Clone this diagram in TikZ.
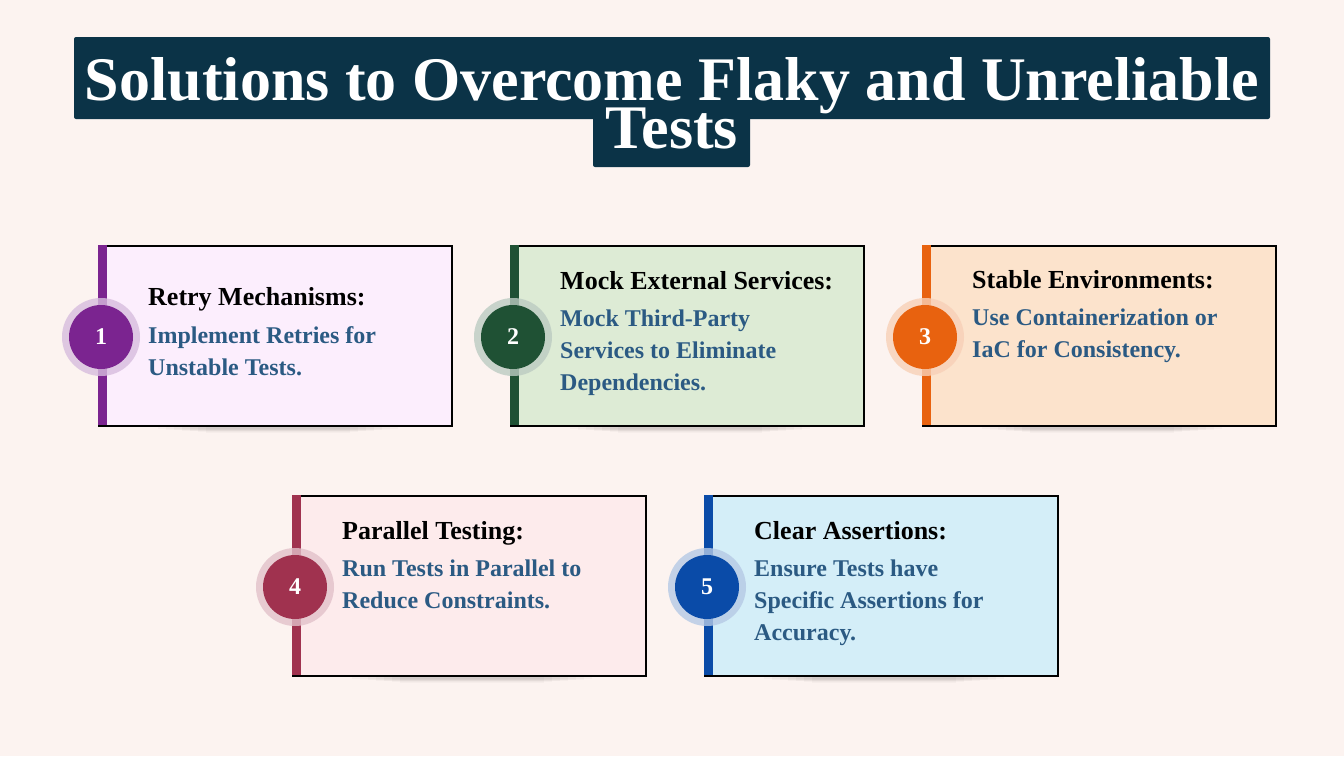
\documentclass[tikz,border=0pt]{standalone}
\usepackage{fontspec}
\setmainfont{Liberation Serif}
\definecolor{bg}{HTML}{FCF3F0}
\definecolor{ttl}{HTML}{0B3347}
\definecolor{desc}{HTML}{2B5A83}
\definecolor{cA}{HTML}{7B2490}\definecolor{fA}{HTML}{FCEEFD}
\definecolor{cB}{HTML}{1F5134}\definecolor{fB}{HTML}{DDEBD5}
\definecolor{cC}{HTML}{E8620F}\definecolor{fC}{HTML}{FCE3CC}
\definecolor{cD}{HTML}{A0324F}\definecolor{fD}{HTML}{FDEBEC}
\definecolor{cE}{HTML}{0A4BA8}\definecolor{fE}{HTML}{D4EEF8}
\tikzset{
 x=1pt,y=-1pt,
 hd/.style={anchor=base west,font=\fontsize{26}{30}\selectfont\bfseries,text=black,inner sep=0},
 ds/.style={anchor=north west,font=\fontsize{24}{32}\selectfont\bfseries,text=desc,inner sep=0,align=left},
 num/.style={font=\fontsize{24}{28}\selectfont\bfseries,text=white},
 shd/.style={fill=black,opacity=0.025}
}
\newcommand{\card}[8]{% x y color fill num header desc headerY
 \foreach \k in {0,...,6}{\fill[shd] (#1+60+\k*8,#2+176) rectangle (#1+300-\k*8,#2+184+\k*0.6);}
 \node[draw=black,line width=1.5pt,fill=#4,minimum width=353pt,minimum height=180pt,anchor=north west,inner sep=0] (box#5) at (#1,#2) {};
 \fill[#3] (#1,#2) rectangle (#1+9,#2+180);
 \node[circle,fill=#3!30,minimum size=78pt,opacity=0.8] (halo#5) at (#1+3,#2+92) {};
 \node[circle,fill=#3,minimum size=64pt,num] (n#5) at (#1+3,#2+92) {#5};
 \node[hd] (h#5) at (#1+50,#2+#8) {#6};
 \node[ds] (d#5) at (#1+50,#2+#8+21) {#7};
}
\begin{document}
\begin{tikzpicture}
\fill[bg] (0,0) rectangle (1344,756);
\useasboundingbox (0,0) rectangle (1344,756);
\fill[ttl,rounded corners=2pt] (74,37) rectangle (1270,119);
\fill[ttl,rounded corners=2pt] (593,110) rectangle (750,167);
\node[text=white,font=\fontsize{62}{48}\selectfont\bfseries,anchor=base] (title) at (672,100) {Solutions to Overcome Flaky and Unreliable};
\node[text=white,font=\fontsize{62}{48}\selectfont\bfseries,anchor=base] (title2) at (672,148) {Tests};
\card{98}{245}{cA}{fA}{1}{Retry Mechanisms:}{Implement Retries for\\Unstable Tests.}{60}
\card{510}{245}{cB}{fB}{2}{Mock External Services:}{Mock Third-Party\\Services to Eliminate\\Dependencies.}{44}
\card{922}{245}{cC}{fC}{3}{Stable Environments:}{Use Containerization or\\IaC for Consistency.}{43}
\card{292}{495}{cD}{fD}{4}{Parallel Testing:}{Run Tests in Parallel to\\Reduce Constraints.}{44}
\card{704}{495}{cE}{fE}{5}{Clear Assertions:}{Ensure Tests have\\Specific Assertions for\\Accuracy.}{44}
\end{tikzpicture}
\end{document}
